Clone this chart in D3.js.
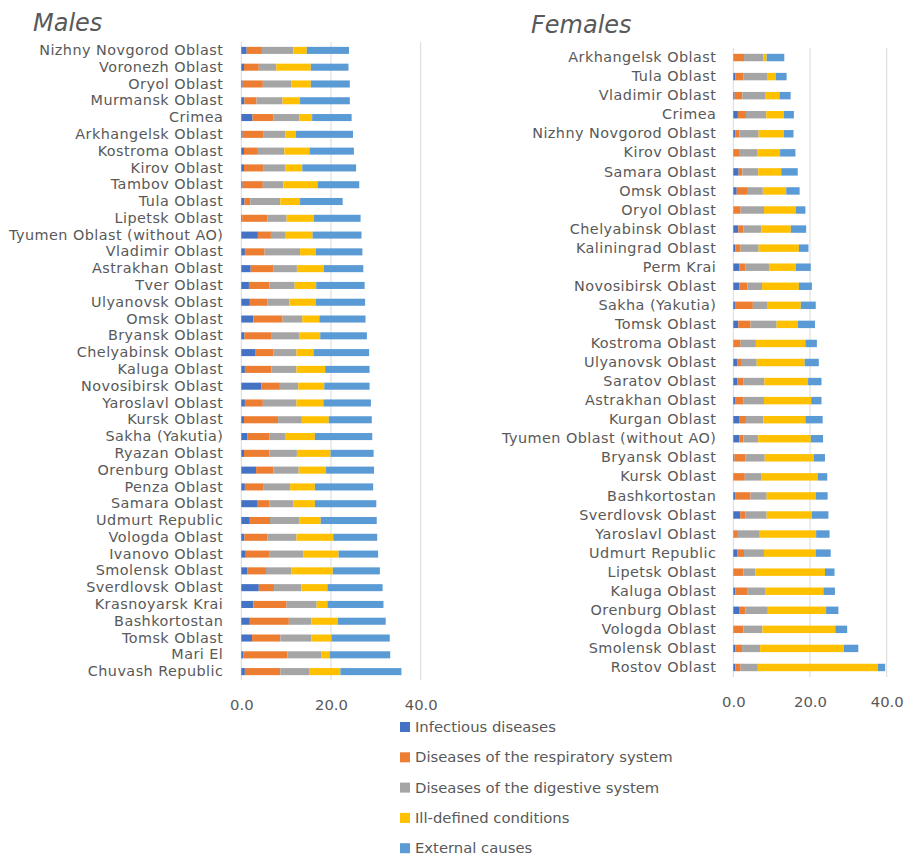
<!DOCTYPE html>
<html>
<head>
<meta charset="utf-8">
<script src="https://cdn.jsdelivr.net/npm/d3@7"></script>
<style>
  body { margin: 0; background: #fff; }
  svg text { font-family: "DejaVu Sans", sans-serif; fill: #595959; }
</style>
</head>
<body>
<svg id="chart" width="911" height="858"></svg>
<script>
"use strict";

// series names and colours (Excel office palette)
var seriesNames = ['Infectious diseases', 'Diseases of the respiratory system', 'Diseases of the digestive system', 'Ill-defined conditions', 'External causes'];
var seriesColors = ['#4472C4', '#ED7D31', '#A5A5A5', '#FFC000', '#5B9BD5'];
var tickValues = [0, 20, 40];

// males, top to bottom
var maleRegions = ['Nizhny Novgorod Oblast', 'Voronezh Oblast', 'Oryol Oblast', 'Murmansk Oblast', 'Crimea', 'Arkhangelsk Oblast', 'Kostroma Oblast', 'Kirov Oblast', 'Tambov Oblast', 'Tula Oblast', 'Lipetsk Oblast', 'Tyumen Oblast (without AO)', 'Vladimir Oblast', 'Astrakhan Oblast', 'Tver Oblast', 'Ulyanovsk Oblast', 'Omsk Oblast', 'Bryansk Oblast', 'Chelyabinsk Oblast', 'Kaluga Oblast', 'Novosibirsk Oblast', 'Yaroslavl Oblast', 'Kursk Oblast', 'Sakha (Yakutia)', 'Ryazan Oblast', 'Orenburg Oblast', 'Penza Oblast', 'Samara Oblast', 'Udmurt Republic', 'Vologda Oblast', 'Ivanovo Oblast', 'Smolensk Oblast', 'Sverdlovsk Oblast', 'Krasnoyarsk Krai', 'Bashkortostan', 'Tomsk Oblast', 'Mari El', 'Chuvash Republic'];
var maleInfectious  = [1.2, 0.6, 0.3, 0.7, 2.5, 0.3, 0.6, 0.6, 0.3, 0.7, 0.2, 3.7, 0.8, 2.1, 1.7, 1.9, 2.7, 0.7, 3.2, 0.8, 4.5, 0.8, 0.6, 1.4, 0.6, 3.3, 0.8, 3.5, 1.9, 0.7, 1.0, 1.4, 3.9, 2.7, 1.9, 2.4, 0.5, 0.8];
var maleRespiratory = [3.4, 3.3, 4.5, 2.7, 4.7, 4.7, 3.1, 4.4, 4.5, 1.3, 5.6, 2.9, 4.4, 5.0, 4.6, 3.9, 6.5, 6.1, 4.0, 5.9, 4.1, 4.0, 7.6, 4.9, 5.7, 3.9, 4.2, 2.8, 4.5, 5.1, 5.2, 4.1, 3.4, 7.4, 8.7, 6.3, 9.8, 7.9];
var maleDigestive   = [7.0, 3.9, 6.4, 5.8, 5.8, 4.8, 5.9, 4.8, 4.6, 6.7, 4.3, 3.3, 7.9, 5.3, 5.6, 4.9, 4.4, 6.2, 5.1, 5.6, 4.1, 7.5, 5.3, 3.6, 6.1, 5.6, 5.9, 5.3, 6.6, 6.5, 7.6, 5.6, 6.1, 6.7, 5.0, 6.9, 7.6, 6.4];
var maleIllDefined  = [3.0, 7.7, 4.3, 3.9, 2.8, 2.4, 5.6, 3.8, 7.6, 4.4, 6.1, 6.0, 3.5, 6.0, 4.8, 5.9, 3.8, 4.6, 3.8, 6.4, 5.8, 6.0, 6.0, 6.5, 7.5, 6.1, 5.5, 4.8, 4.7, 8.2, 7.9, 9.3, 5.8, 2.4, 5.9, 4.5, 1.8, 7.0];
var maleExternal    = [9.4, 8.4, 8.7, 11.1, 8.8, 12.7, 9.9, 12.0, 9.3, 9.5, 10.4, 10.9, 10.4, 8.8, 10.8, 11.0, 10.3, 10.4, 12.4, 9.9, 10.1, 10.6, 9.6, 12.8, 9.6, 10.7, 13.0, 13.7, 12.5, 9.8, 8.8, 10.5, 12.3, 12.5, 10.7, 13.0, 13.5, 13.6];

// females, top to bottom
var femaleRegions = ['Arkhangelsk Oblast', 'Tula Oblast', 'Vladimir Oblast', 'Crimea', 'Nizhny Novgorod Oblast', 'Kirov Oblast', 'Samara Oblast', 'Omsk Oblast', 'Oryol Oblast', 'Chelyabinsk Oblast', 'Kaliningrad Oblast', 'Perm Krai', 'Novosibirsk Oblast', 'Sakha (Yakutia)', 'Tomsk Oblast', 'Kostroma Oblast', 'Ulyanovsk Oblast', 'Saratov Oblast', 'Astrakhan Oblast', 'Kurgan Oblast', 'Tyumen Oblast (without AO)', 'Bryansk Oblast', 'Kursk Oblast', 'Bashkortostan', 'Sverdlovsk Oblast', 'Yaroslavl Oblast', 'Udmurt Republic', 'Lipetsk Oblast', 'Kaluga Oblast', 'Orenburg Oblast', 'Vologda Oblast', 'Smolensk Oblast', 'Rostov Oblast'];
var femaleInfectious  = [0.1, 0.5, 0.35, 1.2, 0.5, 0.1, 1.4, 0.9, 0.1, 1.3, 0.5, 1.6, 1.6, 0.6, 1.3, 0.1, 1.0, 1.0, 0.6, 1.5, 1.6, 0.3, 0.1, 0.6, 1.8, 0.1, 1.0, 0.1, 0.5, 1.5, 0.1, 0.5, 0.5];
var femaleRespiratory = [2.7, 2.2, 2.0, 2.1, 1.1, 1.6, 1.0, 2.9, 1.8, 1.4, 1.4, 1.6, 2.1, 4.5, 3.2, 1.8, 1.0, 1.7, 2.1, 1.8, 1.0, 2.8, 2.9, 3.9, 1.3, 1.1, 1.8, 2.5, 3.1, 1.7, 2.5, 1.8, 1.4];
var femaleDigestive   = [5.1, 6.1, 6.1, 5.3, 5.0, 4.5, 4.1, 3.9, 6.1, 4.6, 4.7, 6.1, 3.8, 3.7, 6.8, 4.0, 4.1, 5.4, 5.3, 4.5, 3.9, 5.1, 4.4, 4.2, 5.6, 5.7, 5.2, 3.1, 4.7, 5.8, 5.0, 4.7, 4.5];
var femaleIllDefined  = [0.8, 2.3, 3.6, 4.6, 6.6, 6.0, 6.0, 6.1, 8.3, 7.7, 10.5, 7.0, 9.6, 8.8, 5.5, 12.9, 12.5, 11.4, 12.3, 11.0, 13.7, 12.8, 14.6, 12.8, 11.8, 14.7, 13.5, 18.2, 15.2, 15.2, 19.0, 21.8, 31.3];
var femaleExternal    = [4.6, 2.8, 2.9, 2.6, 2.5, 4.0, 4.3, 3.5, 2.5, 4.0, 2.5, 3.9, 3.4, 3.9, 4.5, 3.0, 3.7, 3.5, 2.7, 4.5, 3.2, 2.9, 2.5, 3.1, 4.3, 3.5, 3.9, 2.5, 3.0, 3.2, 3.1, 3.8, 1.9];

var svg = d3.select('#chart');

function build_rows( regions, cols ) {
    return regions.map( function( name, i ) {
        var row = { region: name };
        seriesNames.forEach( function( s, k ) { row[s] = cols[k][i]; } );
        return row;
    });
}

function draw_panel( cfg ) {
    var rows = build_rows( cfg.regions, cfg.cols );

    var x = d3.scaleLinear().domain([0, 40]).range([cfg.x0, cfg.x1]);
    var y = d3.scaleBand().domain( cfg.regions ).range([cfg.top, cfg.bottom])
        .paddingInner( cfg.pad ).paddingOuter( cfg.pad / 2 );

    var g = svg.append('g').classed('panel', true);

    // gridlines
    g.append('g').selectAll('line')
        .data( tickValues )
        .enter().append('line')
            .attr('x1', function( d ) { return x(d); })
            .attr('x2', function( d ) { return x(d); })
            .attr('y1', cfg.top)
            .attr('y2', cfg.bottom)
            .attr('stroke', '#d9d9d9')
            .attr('stroke-width', 1);

    var layers = d3.stack().keys( seriesNames )( rows );

    g.append('g').selectAll('g')
        .data( layers )
        .enter().append('g')
            .attr('fill', function( d, i ) { return seriesColors[i]; })
            .selectAll('rect')
            .data( function( d ) { return d; })
            .enter().append('rect')
                .attr('x', function( d ) { return x(d[0]); })
                .attr('width', function( d ) { return Math.max(0, x(d[1]) - x(d[0])); })
                .attr('y', function( d ) { return y(d.data.region); })
                .attr('height', y.bandwidth());

    // category labels
    var ya = g.append('g')
        .attr('transform', 'translate(' + cfg.x0 + ',0)')
        .call( d3.axisLeft( y ).tickSize(0).tickPadding( cfg.labelPad ) );
    ya.select('.domain').remove();
    ya.selectAll('text')
        .style('font-size', '14.4px')
        .style('letter-spacing', '0.45px')
        .style('fill', '#595959')
        .style('font-family', '"DejaVu Sans", sans-serif');

    // value axis
    var xa = g.append('g')
        .attr('transform', 'translate(0,' + cfg.axisY + ')')
        .call( d3.axisBottom( x ).tickValues( tickValues ).tickFormat( d3.format('.1f') ).tickSize(0) );
    xa.select('.domain').remove();
    xa.selectAll('text').style('font-size', '14.8px').style('fill', '#595959').style('font-family', '"DejaVu Sans", sans-serif');

    svg.append('text')
        .attr('x', cfg.titleX)
        .attr('y', cfg.titleY)
        .style('font-size', '24px')
        .style('font-style', 'italic')
        .text( cfg.title );
}

draw_panel({
    title: 'Males', titleX: 33, titleY: 31,
    regions: maleRegions,
    cols: [maleInfectious, maleRespiratory, maleDigestive, maleIllDefined, maleExternal],
    x0: 241.3, x1: 420.7, top: 42, bottom: 680, pad: 0.58, labelPad: 18, axisY: 696
});

draw_panel({
    title: 'Females', titleX: 531, titleY: 33,
    regions: femaleRegions,
    cols: [femaleInfectious, femaleRespiratory, femaleDigestive, femaleIllDefined, femaleExternal],
    x0: 733.3, x1: 886.7, top: 48, bottom: 677, pad: 0.61, labelPad: 17, axisY: 693
});

// legend
var legend = svg.append('g').attr('transform', 'translate(400,722)');
var item = legend.selectAll('g')
    .data( seriesNames )
    .enter().append('g')
        .attr('transform', function( d, i ) { return 'translate(0,' + (i * 30.3) + ')'; });
item.append('rect')
    .attr('width', 10).attr('height', 10)
    .attr('fill', function( d, i ) { return seriesColors[i]; });
item.append('text')
    .attr('x', 15).attr('y', 5).attr('dy', '0.35em')
    .style('font-size', '14.8px')
    .text( function( d ) { return d; });
</script>
</body>
</html>
